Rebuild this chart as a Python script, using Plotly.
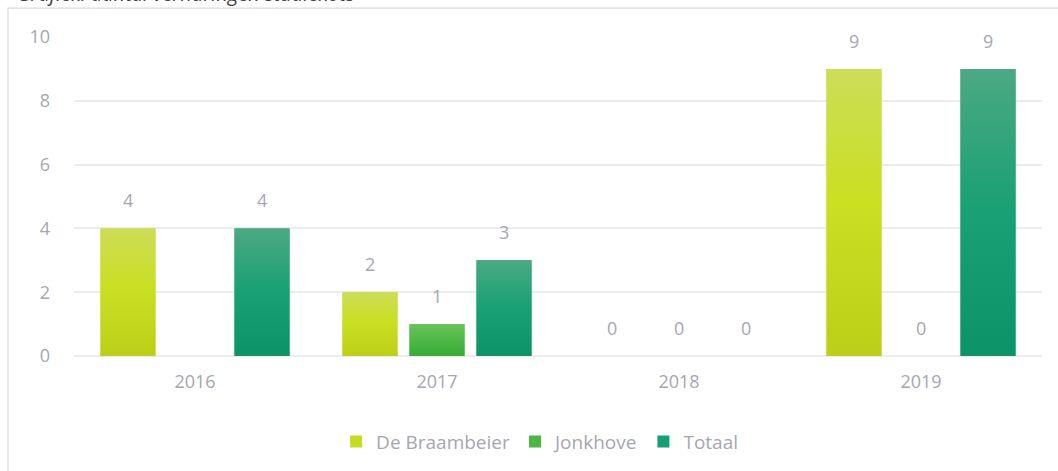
import plotly.graph_objects as go

# Aantal verhuringen per jaar (None = geen waarde ingevuld)
years = ["2016", "2017", "2018", "2019"]
braambeier = [4, 2, 0, 9]
jonkhove = [None, 1, 0, 0]
totaal = [4, 3, 0, 9]

# naam, waarden, basiskleur, verloop (onder -> boven), positie in de groep
series = [
    ("De Braambeier", braambeier, "#c6dc24",
     [[0, "#bccf18"], [0.55, "#c9e023"], [1, "#ccdd58"]], -1),
    ("Jonkhove", jonkhove, "#4cb644",
     [[0, "#3aab36"], [0.5, "#4db845"], [1, "#6cc25c"]], 0),
    ("Totaal", totaal, "#17a074",
     [[0, "#0d9368"], [0.5, "#19a074"], [1, "#4ba983"]], 1),
]

label_color = "#a6a6b0"
font_family = "Open Sans, Noto Sans, sans-serif"

# Staafgeometrie in categorie-eenheden
slot = 67 / 242
half_w = 55 / 242 / 2
bargap = 0.169
bargroupgap = 0.179

idx = list(range(len(years)))

fig = go.Figure()
for name, values, color, scale, _ in series:
    fig.add_trace(go.Bar(
        name=name, x=idx, y=values,
        marker=dict(color=color, line=dict(width=0)),
        hoverinfo="skip",
    ))

# Verloopvulling over elke staaf
for name, values, color, scale, pos in series:
    for i, v in enumerate(values):
        if not v:
            continue
        cx = i + pos * slot
        fig.add_trace(go.Scatter(
            x=[cx - half_w, cx + half_w, cx + half_w, cx - half_w, cx - half_w],
            y=[0, 0, v, v, 0],
            mode="none", fill="toself",
            fillgradient=dict(type="vertical", colorscale=scale),
            showlegend=False, name=name,
            hoveron="fills", hoverinfo="name",
        ))

# Waardelabels boven elke staaf
slot_px = 67
for name, values, color, scale, pos in series:
    for i, v in enumerate(values):
        if v is None:
            continue
        fig.add_annotation(
            x=i, y=v, xref="x", yref="y",
            text=str(v), showarrow=False,
            xshift=pos * slot_px, yshift=14, yanchor="bottom",
            font=dict(size=18, color=label_color, family=font_family),
        )

# Titel (bovenaan afgesneden) en kaderlijn
fig.add_annotation(
    x=-0.0610, y=1.0885, xref="paper", yref="paper",
    xanchor="left", yanchor="bottom", showarrow=False,
    text="<i>Grafiek: aantal verhuringen studiekots</i>",
    font=dict(size=20, color="#404040", family=font_family),
)
fig.add_shape(
    type="rect", xref="paper", yref="paper",
    x0=-0.0682, x1=1.05, y0=-0.6, y1=1.0906,
    line=dict(color="#dcdcdc", width=1.2), fillcolor="rgba(0,0,0,0)",
    layer="below",
)

fig.update_layout(
    width=1058, height=471,
    margin=dict(l=74, r=16, t=37, b=114),
    paper_bgcolor="white", plot_bgcolor="white",
    barmode="group", bargap=bargap, bargroupgap=bargroupgap,
    font=dict(family=font_family, size=18, color=label_color),
    showlegend=True,
    legend=dict(
        orientation="h", x=0.481, xanchor="center", y=-0.205, yanchor="top",
        font=dict(size=19, color=label_color), itemwidth=30,
        traceorder="normal",
    ),
    xaxis=dict(
        range=[-0.5, 3.5], tickvals=idx, ticktext=years,
        showgrid=False, showline=False, zeroline=False, ticks="",
        tickfont=dict(size=18, color=label_color), ticklabelstandoff=13,
    ),
    yaxis=dict(
        range=[0, 10], tickvals=[0, 2, 4, 6, 8, 10],
        showgrid=True, gridcolor="#ececec", gridwidth=1.5,
        zeroline=True, zerolinecolor="#ececec", zerolinewidth=1.5,
        showline=False, ticks="",
        tickfont=dict(size=18, color=label_color), ticklabelstandoff=23,
    ),
)

fig.write_html("out.html")
